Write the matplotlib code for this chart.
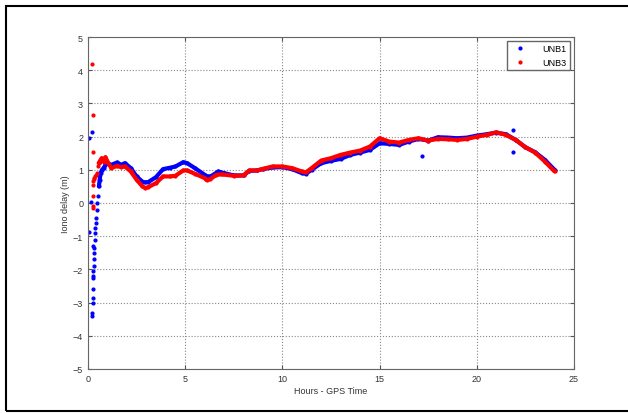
import matplotlib
matplotlib.use("Agg")
import matplotlib.pyplot as plt
from matplotlib.patches import Rectangle
from matplotlib.lines import Line2D

plt.rcParams['font.family'] = ['Liberation Sans', 'DejaVu Sans']

# UNB1 : start-up convergence (isolated epochs)
unb1_conv_t = [0.22, 0.23, 0.24, 0.25, 0.26, 0.27, 0.28, 0.29, 0.30, 0.31, 0.32, 0.34,
               0.36, 0.38, 0.40, 0.42, 0.45, 0.48, 0.52]
unb1_conv_y = [-3.4, -3.3, -3.0, -2.85, -2.6, -2.25, -2.05, -1.9, -1.7, -1.5, -1.35, -1.1,
               -0.9, -0.75, -0.6, -0.45, -0.2, 0.0, 0.2]
# UNB1 : main iono delay curve
unb1_t = [0.56, 0.60, 0.65, 0.72, 0.80,
          0.9, 1.0, 1.2, 1.5, 1.7, 1.9, 2.2, 2.5, 2.8, 2.95, 3.1, 3.5, 3.86, 4.2, 4.5,
          4.9, 5.1, 5.5, 6.0, 6.1, 6.3, 6.5, 6.7, 7.0, 7.5, 8.0, 8.3, 8.7, 9.0, 9.5,
          10.0, 10.5, 11.0, 11.2, 11.5, 12.0, 12.5, 13.0, 13.5, 14.0, 14.5, 15.0,
          15.5, 16.0, 16.5, 17.0, 17.5, 18.0, 18.5, 19.0, 19.5, 20.0, 20.5, 21.0,
          21.5, 22.0, 22.5, 23.0, 23.5, 24.0]
unb1_y = [0.5, 0.7, 0.9, 1.0, 1.05,
          1.15, 1.2, 1.15, 1.22, 1.15, 1.2, 1.05, 0.8, 0.64, 0.62, 0.63, 0.78, 1.02, 1.06, 1.1,
          1.23, 1.2, 1.05, 0.85, 0.8, 0.8, 0.87, 0.95, 0.9, 0.83, 0.83, 0.97, 0.98, 1.02, 1.07,
          1.08, 1.02, 0.9, 0.88, 1.0, 1.2, 1.27, 1.33, 1.45, 1.52, 1.6, 1.8,
          1.78, 1.75, 1.85, 1.93, 1.88, 1.98, 1.97, 1.95, 1.97, 2.03, 2.07, 2.12,
          2.07, 1.9, 1.68, 1.53, 1.3, 1.0]
unb1_out_t = [0.05, 0.2, 0.05, 0.15, 0.25, 0.28, 17.2, 21.85, 21.85]
unb1_out_y = [1.95, 2.15, -0.87, 0.03, -1.3, -2.2, 1.43, 2.2, 1.55]

# UNB3
unb3_conv_t = [0.25, 0.28, 0.30, 0.33, 0.36, 0.40, 0.45, 0.5]
unb3_conv_y = [0.55, 0.65, 0.75, 0.72, 0.8, 0.85, 0.9, 1.1]
unb3_t = [0.55, 0.6, 0.7, 0.8, 0.9,
          1.0, 1.2, 1.5, 1.7, 1.9, 2.2, 2.5, 2.8, 2.95, 3.1, 3.5, 3.86, 4.2, 4.5, 4.9,
          5.1, 5.5, 6.0, 6.1, 6.3, 6.6, 6.9, 7.5, 8.0, 8.3, 8.7, 9.0, 9.5, 10.0,
          10.5, 11.0, 11.2, 11.5, 12.0, 12.5, 13.0, 13.5, 14.0, 14.5, 15.0, 15.5,
          16.0, 16.5, 17.0, 17.5, 18.0, 18.5, 19.0, 19.5, 20.0, 20.5, 21.0, 21.5,
          22.0, 22.5, 23.0, 23.5, 24.0]
unb3_y = [1.2, 1.25, 1.35, 1.25, 1.38,
          1.25, 1.05, 1.12, 1.08, 1.1, 0.95, 0.7, 0.5, 0.45, 0.48, 0.6, 0.8, 0.8, 0.82, 0.98,
          0.98, 0.88, 0.75, 0.69, 0.72, 0.85, 0.86, 0.82, 0.83, 0.98, 0.98, 1.03, 1.1, 1.1,
          1.05, 0.95, 0.92, 1.05, 1.28, 1.35, 1.45, 1.52, 1.58, 1.7, 1.95, 1.85,
          1.82, 1.9, 1.95, 1.88, 1.93, 1.92, 1.9, 1.93, 2.0, 2.05, 2.13, 2.05,
          1.9, 1.68, 1.52, 1.25, 0.95]
unb3_out_t = [0.2, 0.25, 0.25, 0.25, 0.27, 0.28]
unb3_out_y = [4.2, 2.65, 1.55, 0.2, -0.1, -0.15]

fig = plt.figure(figsize=(6.28, 4.14), dpi=100)
fig.add_artist(Rectangle((6 / 628, 2 / 414), 1.0, 405 / 414, transform=fig.transFigure,
                         fill=False, edgecolor='black', linewidth=1.5, clip_on=False))

ax = fig.add_axes([88 / 628, 44 / 414, 486 / 628, 332 / 414])

ax.plot(unb1_t, unb1_y, '-', color='blue', linewidth=3.0, solid_capstyle='round')
ax.plot(unb1_t, unb1_y, '.', color='blue', markersize=4)
ax.plot(unb1_conv_t, unb1_conv_y, '.', color='blue', markersize=4)
ax.plot(unb1_out_t, unb1_out_y, '.', color='blue', markersize=4)
ax.plot(unb3_t, unb3_y, '-', color='red', linewidth=3.0, solid_capstyle='round')
ax.plot(unb3_t, unb3_y, '.', color='red', markersize=4)
ax.plot(unb3_conv_t, unb3_conv_y, '.', color='red', markersize=4)
ax.plot(unb3_out_t, unb3_out_y, '.', color='red', markersize=4)

ax.set_xlim(0, 25)
ax.set_ylim(-5, 5)
ax.set_xticks(range(0, 26, 5))
ax.set_yticks(range(-5, 6))
ax.grid(True, linestyle=':', color='#888888', linewidth=0.8)
ax.tick_params(direction='in', top=True, right=True, labelsize=6.5,
               colors='#555555', labelcolor='#333333', length=3)
for s in ax.spines.values():
    s.set_color('#666666')

ax.set_xlabel('Hours - GPS Time', fontsize=6.5, color='#333333', labelpad=2)
ax.set_ylabel('Iono delay (m)', fontsize=6.5, color='#333333', labelpad=2)

handles = [Line2D([], [], marker='.', linestyle='none', color='blue', markersize=4),
           Line2D([], [], marker='.', linestyle='none', color='red', markersize=4)]
leg = ax.legend(handles, ['UNB1', 'UNB3'], loc='upper right', fontsize=6.5,
                fancybox=False, framealpha=1, edgecolor='#666666',
                borderaxespad=0.4, handletextpad=1.5, borderpad=0.4)

fig.savefig('out.png', dpi=100)
